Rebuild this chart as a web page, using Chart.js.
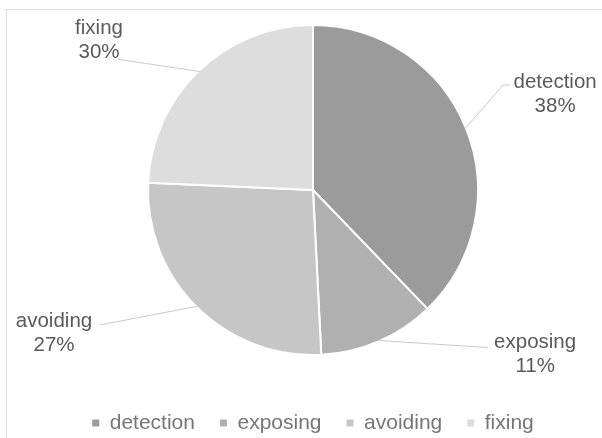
<!DOCTYPE html>
<html><head><meta charset="utf-8">
<script src="https://cdn.jsdelivr.net/npm/chart.js@4.4.1/dist/chart.umd.min.js"></script>
<style>
html,body{margin:0;padding:0;background:#fff;}
#wrap{position:relative;width:602px;height:438px;overflow:hidden;}
#frame{position:absolute;left:6px;top:9px;width:700px;height:600px;border:1px solid #dcdcdc;box-sizing:border-box;}
canvas{position:absolute;left:0;top:0;}
</style></head><body>
<div id="wrap"><div id="frame"></div><canvas id="c" width="602" height="438"></canvas></div>
<script>
// ---- data ----
const categories = ['detection', 'exposing', 'avoiding', 'fixing'];
const shares = [37.8, 11.4, 26.5, 24.3];          // slice sizes
const labelTexts = ['38%', '11%', '27%', '30%'];  // percentages as printed on the labels
const colors = ['#9a9b9a', '#afb0af', '#c5c6c5', '#dcdddc'];

// label placement relative to each slice's outer edge (styling, not data)
const labelSpecs = [
  {line: [[38, -43.7], [45, -43.7]], text: [90, -40.7]},
  {line: [[110, 7]], text: [157, 7.5]},
  {line: [[-97.4, 18.6]], text: [-143.4, 20.6]},
  {line: [[-81.6, -12.2]], text: [-100.6, -37.5]}
];

const leaderLabels = {
  id: 'leaderLabels',
  afterDatasetsDraw(chart, args, opts) {
    const ctx = chart.ctx;
    const meta = chart.getDatasetMeta(0);
    meta.data.forEach((arc, i) => {
      const p = arc.getProps(['x', 'y', 'startAngle', 'endAngle', 'outerRadius'], true);
      const mid = (p.startAngle + p.endAngle) / 2;
      const r = p.outerRadius - 1;
      const ex = p.x + Math.cos(mid) * r, ey = p.y + Math.sin(mid) * r;
      const spec = opts.specs[i];
      ctx.save();
      ctx.strokeStyle = opts.lineColor;
      ctx.lineWidth = 1;
      ctx.beginPath();
      ctx.moveTo(ex, ey);
      spec.line.forEach(([dx, dy]) => ctx.lineTo(ex + dx, ey + dy));
      ctx.stroke();
      ctx.fillStyle = opts.color;
      ctx.font = opts.font;
      ctx.textAlign = 'center';
      ctx.textBaseline = 'alphabetic';
      ctx.fillText(chart.data.labels[i], ex + spec.text[0], ey + spec.text[1]);
      ctx.fillText(opts.values[i], ex + spec.text[0], ey + spec.text[1] + opts.lineHeight);
      ctx.restore();
    });
  }
};

new Chart(document.getElementById('c'), {
  type: 'pie',
  data: {
    labels: categories,
    datasets: [{
      data: shares,
      backgroundColor: colors,
      borderColor: '#ffffff',
      borderWidth: 2,
      hoverOffset: 0,
      radius: 165
    }]
  },
  options: {
    responsive: false,
    animation: false,
    devicePixelRatio: 1,
    layout: {padding: {left: 24, right: 0, top: 0, bottom: 0}},
    plugins: {
      tooltip: {enabled: false},
      legend: {
        position: 'bottom',
        maxHeight: 58,
        title: {display: true, text: ' ', font: {size: 1.5, lineHeight: 1}, padding: 3},
        labels: {
          boxWidth: 7,
          boxHeight: 7,
          padding: 25,
          color: '#767676',
          font: {family: "'Liberation Sans', Arial, sans-serif", size: 21},
          generateLabels(chart) {
            const base = Chart.overrides.pie.plugins.legend.labels.generateLabels(chart);
            return base.map(l => ({...l, lineWidth: 0, strokeStyle: l.fillStyle}));
          }
        }
      },
      leaderLabels: {
        specs: labelSpecs,
        values: labelTexts,
        lineColor: '#c9c9c9',
        color: '#5a5a5a',
        font: "20.5px 'Liberation Sans', Arial, sans-serif",
        lineHeight: 24
      }
    }
  },
  plugins: [leaderLabels]
});
</script>
</body></html>
